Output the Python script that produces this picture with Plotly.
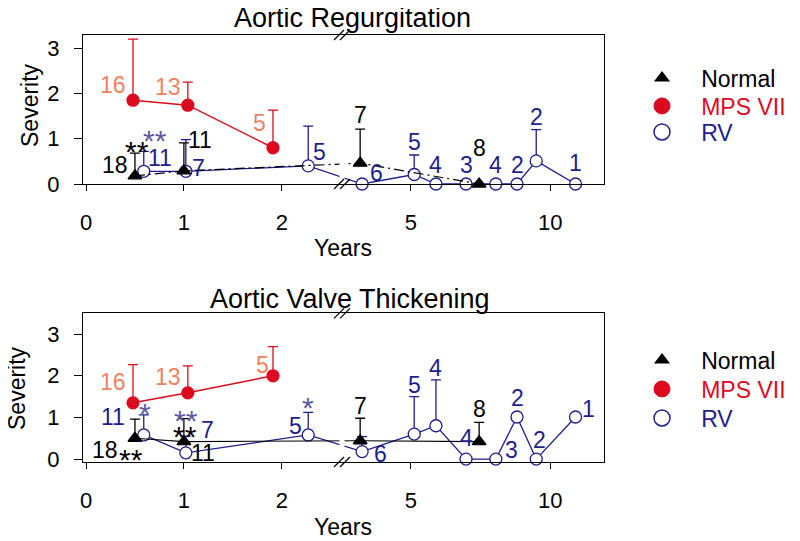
import plotly.graph_objects as go

# ---------------- data (years, severity) ----------------
normal_x = [0.50, 1.00, 3.18, 7.45]
mps_x = [0.48, 1.04, 1.91]
rv_x = [0.59, 1.02, 2.27, 3.25, 5.12, 5.90, 6.98, 8.05, 8.81, 9.50, 10.91]

# Aortic Regurgitation
ar_normal_y = [0.18, 0.29, 0.46, 0.00]
ar_normal_err = [0.50, 0.62, 0.75, 0.00]
ar_normal_n = ["18", "11", "7", "8"]
ar_normal_sig = ["**", "", "", ""]
ar_mps_y = [1.85, 1.74, 0.80]
ar_mps_err = [1.35, 0.51, 0.83]
ar_mps_n = ["16", "13", "5"]
ar_rv_y = [0.28, 0.28, 0.40, 0.00, 0.21, 0.00, 0.00, 0.00, 0.00, 0.51, 0.00]
ar_rv_err = [0.44, 0.70, 0.88, 0.00, 0.43, 0.00, 0.00, 0.00, 0.00, 0.69, 0.00]
ar_rv_n = ["11", "7", "5", "6", "5", "4", "3", "4", "2", "2", "1"]
ar_rv_sig = ["**", "", "", "", "", "", "", "", "", "", ""]

# Aortic Valve Thickening
avt_normal_y = [0.50, 0.42, 0.44, 0.42]
avt_normal_err = [0.46, 0.55, 0.54, 0.46]
avt_normal_n = ["18", "11", "7", "8"]
avt_normal_sig = ["**", "**", "", ""]
avt_mps_y = [1.35, 1.59, 2.00]
avt_mps_err = [0.92, 0.65, 0.70]
avt_mps_n = ["16", "13", "5"]
avt_rv_y = [0.58, 0.15, 0.58, 0.18, 0.60, 0.80, 0.00, 0.00, 1.01, 0.00, 1.01]
avt_rv_err = [0.48, 0.40, 0.54, 0.36, 0.90, 1.10, 0.00, 0.00, 0.00, 0.00, 0.00]
avt_rv_n = ["11", "7", "5", "6", "5", "4", "4", "3", "2", "2", "1"]
avt_rv_sig = ["*", "**", "*", "", "", "", "", "", "", "", ""]

tick_years = [0, 1, 2, 5, 10]
tick_text = ["0", "1", "2", "5", "10"]
legend_names = ["Normal", "MPS VII", "RV"]

# ---------------- broken-axis scale ----------------
B1, B2, R = 2.612, 2.518, 27.86 / 97.9


def tx(v):
    return v if v <= B1 else B1 + (v - B2) * R


def txs(vals):
    return [tx(v) for v in vals]


# ---------------- style ----------------
# the page body has an 8px default margin: the figure is drawn at (8, 8) in the window
OFF = 8
W, H = 800 - OFF, 541 - OFF
FONT = "Liberation Sans, Arial, sans-serif"
BLACK = "#000000"
RED = "#dc0a1e"
SALMON = "#f0825f"
NAVY = "#1e1e8c"
STAR_BLUE = "#5c5c9c"


def PX(p):
    return (p - OFF) / W


def PY(p):
    return 1 - (p - OFF) / H


# label offsets in pixels (dx right, dy down) relative to marker
off_ar_normal = [(-20, -11), (16, -31), (0, -48), (0, -36)]
off_ar_normal_sig = [(2, -24), None, None, None]
off_ar_mps = [(-20, -15), (-20, -18), (-13, -25)]
off_ar_rv = [(16, -13), (13, -3), (11, -14), (14, -11), (0, -32), (0, -19),
             (0, -19), (0, -19), (0, -19), (0, -44), (0, -21)]
off_ar_rv_sig = [(11, -31)] + [None] * 10

off_avt_normal = [(-30, 12), (19, 11), (0, -35), (0, -33)]
off_avt_normal_sig = [(-4, 21), (1, -5), None, None]
off_avt_mps = [(-20, -21), (-20, -16), (-10, -11)]
off_avt_rv = [(-31, -18), (22, -23), (-13, -9), (18, 2), (0, -49), (0, -58),
              (0, -21), (16, -9), (0, -19), (3, -19), (13, -8)]
off_avt_rv_sig = [(1, -21), (0, -32), (0, -27)] + [None] * 8

fig = go.Figure()


def add_series(xs, ys, errs, color, symbol, fill, dash, xa, ya, width=1.3):
    fig.add_trace(go.Scatter(
        x=txs(xs), y=ys, xaxis=xa, yaxis=ya, mode="lines+markers",
        line=dict(color=color, width=width, dash=dash),
        marker=dict(symbol=symbol, size=12, color=fill, line=dict(color=color, width=1.3)),
        error_y=dict(type="data", symmetric=False, array=errs,
                     arrayminus=[0] * len(errs), color=color, thickness=1.3, width=5),
        cliponaxis=False, showlegend=False, hoverinfo="skip"))


def add_labels(xs, ys, texts, offs, color, xa, ya, size=23):
    for xv, yv, t, o in zip(xs, ys, texts, offs):
        if not t or o is None:
            continue
        fig.add_annotation(x=tx(xv), y=yv, xref=xa, yref=ya, text=t, showarrow=False,
                           xanchor="center", yanchor="middle", xshift=o[0], yshift=-o[1],
                           font=dict(family=FONT, size=size, color=color))


panels = [
    ("x", "y", ar_normal_y, ar_normal_err, ar_normal_n, ar_normal_sig, ar_mps_y, ar_mps_err, ar_mps_n,
     ar_rv_y, ar_rv_err, ar_rv_n, ar_rv_sig, off_ar_normal, off_ar_normal_sig, off_ar_mps, off_ar_rv,
     off_ar_rv_sig, "10px,4px,2px,4px"),
    ("x2", "y2", avt_normal_y, avt_normal_err, avt_normal_n, avt_normal_sig, avt_mps_y, avt_mps_err, avt_mps_n,
     avt_rv_y, avt_rv_err, avt_rv_n, avt_rv_sig, off_avt_normal, off_avt_normal_sig, off_avt_mps, off_avt_rv,
     off_avt_rv_sig, "solid"),
]

for (xa, ya, ny, ne, nn, ns, my, me, mn, ry, re, rn, rs, on, ons, om, orv, ors, ndash) in panels:
    add_series(rv_x, ry, re, NAVY, "circle", "white", "solid", xa, ya)
    add_series(normal_x, ny, ne, BLACK, "triangle-up", BLACK, ndash, xa, ya, width=1.2)
    add_series(mps_x, my, me, RED, "circle", RED, "solid", xa, ya, width=1.5)
    add_labels(normal_x, ny, nn, on, BLACK, xa, ya)
    add_labels(normal_x, ny, ns, ons, BLACK, xa, ya, size=30)
    add_labels(mps_x, my, mn, om, SALMON, xa, ya)
    add_labels(rv_x, ry, rn, orv, NAVY, xa, ya)
    add_labels(rv_x, ry, rs, ors, STAR_BLUE, xa, ya, size=30)

# legend-only entries: one legend per row for exact spacing
NB = "\u00a0\u00a0\u00a0"
leg_markers = [dict(symbol="triangle-up", size=14, color=BLACK),
               dict(symbol="circle", size=16, color=RED, line=dict(color=RED, width=1)),
               dict(symbol="circle", size=16, color="white", line=dict(color=NAVY, width=1.5))]
leg_colors = [BLACK, RED, NAVY]
leg_rows = [78, 106, 132, 360, 389, 418]
layout_legends = {}
for i, row_y in enumerate(leg_rows):
    k = i % 3
    lname = "legend" if i == 0 else "legend%d" % (i + 1)
    fig.add_trace(go.Scatter(x=[None], y=[None], mode="markers", legend=lname,
                             marker=leg_markers[k],
                             name=NB + "<span style='color:%s'>%s</span>" % (leg_colors[k], legend_names[k])))
    layout_legends[lname] = dict(x=PX(663 - 21), y=PY(row_y), xref="container", yref="container",
                                 xanchor="left", yanchor="middle", bgcolor="rgba(0,0,0,0)",
                                 font=dict(family=FONT, size=23), itemsizing="trace", itemclick=False,
                                 borderwidth=0)

L, Rr = 83, 604
boxes = {"top": (35, 184), "bot": (313.3, 462)}
axfont = dict(family=FONT, size=22, color=BLACK)


def xaxis_cfg(anchor):
    return dict(domain=[PX(L), PX(Rr)], range=[(L - 86) / 97.9, (Rr - 86) / 97.9], anchor=anchor,
                tickmode="array", tickvals=txs(tick_years), ticktext=tick_text,
                ticks="outside", ticklen=6, tickwidth=1.2, tickcolor=BLACK,
                showline=True, linecolor=BLACK, linewidth=1.2, mirror=True,
                showgrid=False, zeroline=False, tickfont=axfont, ticklabelstandoff=12)


def yaxis_cfg(anchor, dom, rng):
    return dict(domain=dom, range=rng, anchor=anchor, tickmode="array", tickvals=[0, 1, 2, 3],
                ticks="outside", ticklen=8, tickwidth=1.2, tickcolor=BLACK,
                showline=True, linecolor=BLACK, linewidth=1.2, mirror=True,
                showgrid=False, zeroline=False, tickfont=axfont, ticklabelstandoff=10)


fig.update_layout(
    width=W, height=H, margin=dict(l=0, r=0, t=0, b=0, autoexpand=False),
    paper_bgcolor="white", plot_bgcolor="white",
    xaxis=xaxis_cfg("y"), xaxis2=xaxis_cfg("y2"),
    yaxis=yaxis_cfg("x", [PY(184), PY(35)], [0, 3.29]),
    yaxis2=yaxis_cfg("x2", [PY(462), PY(313.3)], [-0.07, 3.5]),
    **layout_legends,
)

# titles
texts = [
    ("Aortic Regurgitation", 352, 18, 27, 0),
    ("Aortic Valve Thickening", 350, 299, 27, 0),
    ("Years", 343, 248, 23, 0),
    ("Years", 343, 527, 23, 0),
    ("Severity", 30, 105, 23, -90),
    ("Severity", 17, 388, 23, -90),
]
for t, x, y, s, a in texts:
    fig.add_annotation(x=PX(x), y=PY(y), xref="paper", yref="paper", text=t, showarrow=False,
                       xanchor="center", yanchor="middle", textangle=a,
                       font=dict(family=FONT, size=s, color=BLACK))

# axis break: gap in data lines and "//" marks
BX = 342
for top, bot in boxes.values():
    fig.add_shape(type="rect", xref="paper", yref="paper", x0=PX(BX - 2.5), x1=PX(BX + 2.5),
                  y0=PY(bot - 1.5), y1=PY(top + 1.5), fillcolor="white", line_width=0, layer="above")
    for yy in (top, bot):
        for dx in (-3, 3):
            fig.add_shape(type="line", xref="paper", yref="paper",
                          x0=PX(BX + dx - 5), y0=PY(yy + 5), x1=PX(BX + dx + 5), y1=PY(yy - 5),
                          line=dict(color=BLACK, width=1.2), layer="above")

fig.write_html("out.html")
